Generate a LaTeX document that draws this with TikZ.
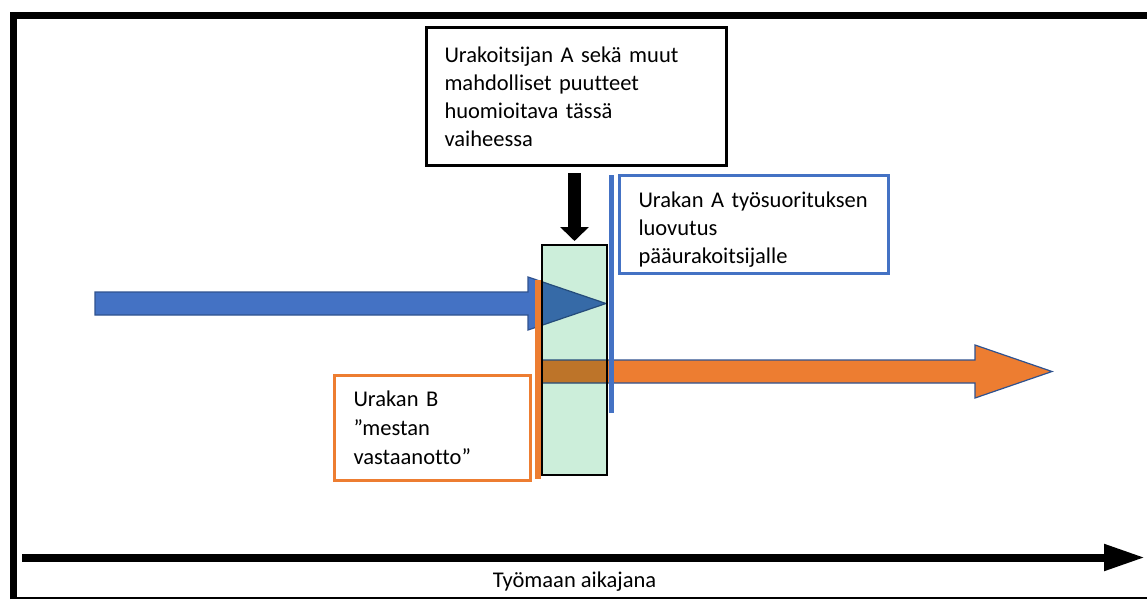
\documentclass[tikz,border=0pt]{standalone}
\usepackage{fontspec}
\setmainfont{Carlito}[Ligatures=NoCommon]
\usetikzlibrary{arrows.meta, positioning}

\definecolor{blueA}{HTML}{4472C4}
\definecolor{blueEdge}{HTML}{2F528F}
\definecolor{orangeB}{HTML}{ED7D31}
\definecolor{mint}{HTML}{CCEEDA}

\begin{document}
\begin{tikzpicture} [
    x=1pt, y=-1pt,
    every node/.style = {font=\fontsize{22.5}{28}\selectfont, align=left},
    notebox/.style = {draw, line width=3pt, anchor=north west,
        inner ysep=0pt, inner xsep=18pt},
    blockarrow/.style = {draw=blueEdge, line width=1.2pt, line join=miter}]
    % \draw [help lines, step=50] (0,0) grid (1147,599);
    \useasboundingbox (0,0) rectangle (1147,599);

    % frame
    \draw [line width=7.5pt] (13.5,599) -- (13.5,15.5) -- (1147,15.5);
    \draw [line width=1.5pt] (10,598) -- (1147,598);

    % timeline
    \coordinate (t0) at (22,557.5);
    \coordinate (t1) at (1145,557.5);
    \draw [line width=8pt, -{Triangle[length=41pt, width=25pt]}] (t0) -- (t1);
    \node (timeline) at (574.5,582) {Työmaan aikajana};

    % work flows
    \path [blockarrow, fill=blueA]
        (95,292) -- (528,292) -- (528,277) -- (606,303.5)
        -- (528,330) -- (528,315) -- (95,315) -- cycle;
    \path [blockarrow, fill=orangeB]
        (541,360) -- (975,360) -- (975,345) -- (1052,371.5)
        -- (975,398) -- (975,383) -- (541,383) -- cycle;

    \begin{scope} [blend mode=multiply]
        \node (handover) [draw, line width=1.5pt, fill=mint, anchor=north west,
            minimum width=65pt, minimum height=230pt] at (541,244) {};
    \end{scope}

    \draw [orangeB, line width=6pt] (537.5,280) -- (537.5,479);
    \draw [blueA, line width=5pt] (611,175) -- (611,413);

    % notes
    \node (defects) [notebox, text width=264pt,
        minimum width=300pt, minimum height=138pt] at (425,26)
        {Urakoitsijan A sekä muut\\mahdolliset puutteet\\huomioitava tässä\\vaiheessa};
    \node (deliverA) [notebox, draw=blueA, inner xsep=19pt, text width=231pt,
        text height=26pt, minimum width=269pt, minimum height=98pt] at (618,174)
        {Urakan A työsuorituksen\\luovutus\\pääurakoitsijalle};
    \node (receiveB) [notebox, draw=orangeB, inner xsep=19pt, text width=158pt,
        font=\fontsize{22.5}{29}\selectfont,
        minimum width=196pt, minimum height=105pt] at (333,374)
        {Urakan B\\”mestan\\vastaanotto”};

    \coordinate (d0) at (574.5,173);
    \coordinate (d1) at (574.5,241);
    \draw [line width=13pt, -{Triangle[length=14pt, width=28pt]}] (d0) -- (d1);
\end{tikzpicture}
\end{document}
